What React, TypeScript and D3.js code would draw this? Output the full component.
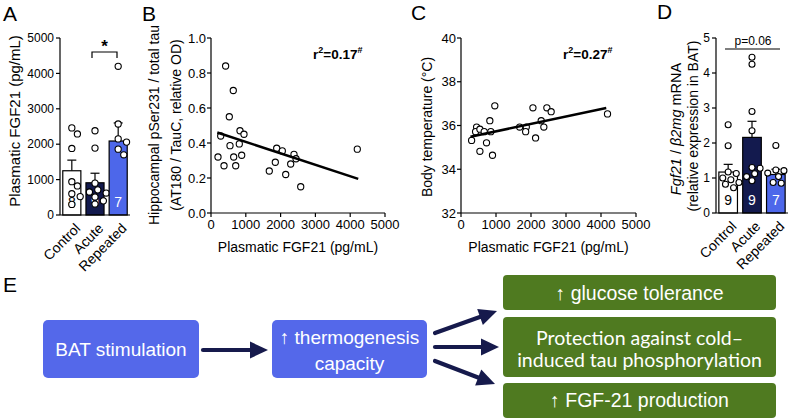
import React from 'react';
import * as d3 from 'd3';

// ---------- DATA ----------
const groups = ['Control', 'Acute', 'Repeated'];

// Panel A: plasmatic FGF21 (pg/mL)
const aMeans = [1250, 910, 2090];
const aSem = [300, 270, 510];
const aN = [8, 9, 7];
const aControl = [2460, 2290, 1880, 940, 820, 600, 520, 300];
const aAcute = [2380, 1890, 900, 710, 650, 620, 510, 400, 310];
const aRepeated = [4200, 2570, 2150, 2060, 1860, 1700];
const aTicks = [0, 1000, 2000, 3000, 4000, 5000];

// Panel B: hippocampal pSer231 / total tau vs plasmatic FGF21
const bX = [420, 640, 526, 833, 948, 279, 546, 813, 201, 374, 652, 882, 710, 1888, 2049, 1848, 1675, 2147, 2290, 2385, 2443, 2578, 4204];
const bY = [0.84, 0.70, 0.55, 0.47, 0.45, 0.44, 0.385, 0.395, 0.32, 0.27, 0.32, 0.33, 0.27, 0.37, 0.355, 0.29, 0.24, 0.22, 0.28, 0.335, 0.31, 0.15, 0.365];
const bFitX = [180, 4230];
const bFitY = [0.46, 0.195];
const bYTicks = [0, 0.2, 0.4, 0.6, 0.8, 1.0];
const xTicksFGF = [0, 1000, 2000, 3000, 4000, 5000];

// Panel C: body temperature vs plasmatic FGF21
const cX = [303, 446, 417, 540, 663, 852, 824, 966, 540, 729, 900, 1676, 1866, 1847, 2055, 2131, 2292, 2367, 2453, 2576, 4186];
const cY = [35.32, 35.93, 35.72, 35.83, 35.72, 35.72, 36.22, 36.9, 34.82, 35.21, 34.64, 35.93, 35.93, 35.72, 36.81, 35.43, 36.22, 35.93, 36.81, 36.63, 36.53];
const cFitX = [270, 4150];
const cFitY = [35.49, 36.8];
const cYTicks = [32, 34, 36, 38, 40];

// Panel D: Fgf21 / b2mg mRNA in BAT
const dMeans = [1.17, 2.16, 1.10];
const dSem = [0.22, 0.46, 0.15];
const dN = [9, 9, 7];
const dControl = [2.52, 1.92, 1.17, 1.13, 1.0, 0.95, 0.87, 0.82, 0.72];
const dAcute = [4.45, 4.25, 2.9, 2.35, 1.3, 1.28, 1.12, 1.04, 0.92];
const dRepeated = [1.93, 1.23, 1.21, 1.14, 1.04, 0.87, 0.85];
const dTicks = [0, 1, 2, 3, 4, 5];

// Panel E texts
const eLeft = 'BAT stimulation';
const eMid = ['↑ thermogenesis', 'capacity'];
const eOut1 = '↑ glucose tolerance';
const eOut2 = ['Protection against cold–', 'induced tau phosphorylation'];
const eOut3 = '↑ FGF-21 production';

// ---------- STYLE ----------
const FONT = "'Liberation Sans', Arial, Helvetica, sans-serif";
const NAVY = '#131a4e';
const BLUE = '#4d67ea';
const BOXBLUE = '#5468ea';
const GREEN = '#4f7a20';
const ARROW = '#161a4c';

function swarm(vals: number[], y: (v: number) => number, r: number) {
  const placed: { x: number; y: number }[] = [];
  return vals.map((v) => {
    const py = y(v);
    let off = 0;
    for (let k = 0; k < 30; k++) {
      const cand = k === 0 ? 0 : (k % 2 ? 1 : -1) * Math.ceil(k / 2) * r * 0.9;
      if (placed.every((p) => Math.hypot(p.x - cand, p.y - py) >= 2 * r + 0.8)) {
        off = cand;
        break;
      }
    }
    placed.push({ x: off, y: py });
    return { x: off, y: py };
  });
}

function BarPanel(props: {
  x0: number; x1: number; yTop: number; yBot: number; max: number;
  means: number[]; sem: number[]; n: number[]; pts: number[][]; ticks: number[];
  tickFont: number; r: number;
}) {
  const { x0, x1, yTop, yBot, max, means, sem, n, pts, ticks, tickFont, r } = props;
  const x = d3.scaleBand<string>().domain(groups).range([x0, x1]).paddingInner(0.22).paddingOuter(0.12);
  const y = d3.scaleLinear().domain([0, max]).range([yBot, yTop]);
  const fills = ['#ffffff', NAVY, BLUE];
  const numCol = ['#000', '#fff', '#fff'];
  const bw = x.bandwidth();
  return (
    <g>
      {groups.map((g, i) => {
        const cx = (x(g) as number) + bw / 2;
        const sw = swarm(pts[i], y, r);
        return (
          <g key={g}>
            <line x1={cx} x2={cx} y1={y(means[i])} y2={y(means[i] + sem[i])} stroke="#000" strokeWidth={1.2} />
            <line x1={cx - 4.5} x2={cx + 4.5} y1={y(means[i] + sem[i])} y2={y(means[i] + sem[i])} stroke="#000" strokeWidth={1.2} />
            <rect x={x(g)} y={y(means[i])} width={bw} height={yBot - y(means[i])} fill={fills[i]} stroke="#000" strokeWidth={1.2} />
            <text x={cx} y={yBot - 8} textAnchor="middle" fontSize={14} fontFamily={FONT} fill={numCol[i]}>{n[i]}</text>
            {sw.map((p, j) => (
              <circle key={j} cx={cx + p.x} cy={p.y} r={r} fill="#fff" stroke="#000" strokeWidth={1.1} />
            ))}
            <text transform={`translate(${cx + 2},${yBot + 7}) rotate(-45)`} textAnchor="end" dominantBaseline="hanging"
              fontSize={14} fontFamily={FONT}>{g}</text>
          </g>
        );
      })}
      <line x1={x0} x2={x0} y1={yTop} y2={yBot} stroke="#000" strokeWidth={1.2} />
      <line x1={x0} x2={x1} y1={yBot} y2={yBot} stroke="#000" strokeWidth={1.2} />
      {ticks.map((t) => (
        <g key={t}>
          <line x1={x0 - 4} x2={x0} y1={y(t)} y2={y(t)} stroke="#000" strokeWidth={1.2} />
          <text x={x0 - 6} y={y(t)} dy="0.35em" textAnchor="end" fontSize={tickFont} fontFamily={FONT}>{t}</text>
        </g>
      ))}
    </g>
  );
}

function ScatterPanel(props: {
  x0: number; x1: number; yTop: number; yBot: number; yDom: [number, number];
  xs: number[]; ys: number[]; fitX: number[]; fitY: number[]; yTicks: number[]; fmt: (v: number) => string;
}) {
  const { x0, x1, yTop, yBot, yDom, xs, ys, fitX, fitY, yTicks, fmt } = props;
  const x = d3.scaleLinear().domain([0, 5000]).range([x0, x1]);
  const y = d3.scaleLinear().domain(yDom).range([yBot, yTop]);
  const line = d3.line<number>().x((_, i) => x(fitX[i])).y((v) => y(v));
  return (
    <g>
      <line x1={x0} x2={x0} y1={yTop} y2={yBot} stroke="#000" strokeWidth={1.2} />
      <line x1={x0} x2={x1} y1={yBot} y2={yBot} stroke="#000" strokeWidth={1.2} />
      {yTicks.map((t) => (
        <g key={t}>
          <line x1={x0 - 4} x2={x0} y1={y(t)} y2={y(t)} stroke="#000" strokeWidth={1.2} />
          <text x={x0 - 5} y={y(t)} dy="0.35em" textAnchor="end" fontSize={13} fontFamily={FONT}>{fmt(t)}</text>
        </g>
      ))}
      {xTicksFGF.map((t) => (
        <g key={t}>
          <line x1={x(t)} x2={x(t)} y1={yBot} y2={yBot + 4} stroke="#000" strokeWidth={1.2} />
          <text x={x(t)} y={yBot + 6} dy="0.75em" textAnchor="middle" fontSize={13} fontFamily={FONT}>{t}</text>
        </g>
      ))}
      <text x={(x0 + x1) / 2} y={yBot + 39} textAnchor="middle" fontSize={14} fontFamily={FONT}>Plasmatic FGF21 (pg/mL)</text>
      {xs.map((v, i) => (
        <circle key={i} cx={x(v)} cy={y(ys[i])} r={3.1} fill="#fff" stroke="#000" strokeWidth={1.1} />
      ))}
      <path d={line(fitY) || ''} stroke="#000" strokeWidth={2.6} fill="none" />
    </g>
  );
}

function Arrow(props: { x1: number; y1: number; x2: number; y2: number }) {
  const { x1, y1, x2, y2 } = props;
  const ang = Math.atan2(y2 - y1, x2 - x1);
  const L = 18, W = 8.5;
  const bx = x2 - L * Math.cos(ang), by = y2 - L * Math.sin(ang);
  const px = -Math.sin(ang) * W, py = Math.cos(ang) * W;
  return (
    <g>
      <line x1={x1} y1={y1} x2={bx + 2 * Math.cos(ang)} y2={by + 2 * Math.sin(ang)} stroke={ARROW} strokeWidth={4.2} strokeLinecap="round" />
      <polygon points={`${x2},${y2} ${bx + px},${by + py} ${bx - px},${by - py}`} fill={ARROW} />
    </g>
  );
}

export default function App() {
  return (
    <svg width={789} height={420} style={{ position: 'absolute', left: 0, top: 0, background: '#fff' }}
      fontFamily={FONT}>
      <rect width={789} height={420} fill="#fff" />
      {/* panel letters */}
      <text x={3} y={21} fontSize={21}>A</text>
      <text x={142} y={21} fontSize={21}>B</text>
      <text x={411} y={20} fontSize={21}>C</text>
      <text x={657} y={19} fontSize={21}>D</text>
      <text x={3} y={292} fontSize={21}>E</text>

      {/* Panel A */}
      <BarPanel x0={60} x1={130} yTop={38} yBot={215} max={5000} means={aMeans} sem={aSem} n={aN}
        pts={[aControl, aAcute, aRepeated]} ticks={aTicks} tickFont={12} r={3.1} />
      <text transform="translate(14,121) rotate(-90)" textAnchor="middle" dominantBaseline="central" fontSize={15}>Plasmatic FGF21 (pg/mL)</text>
      <path d="M92,58 V52 H117 V58" fill="none" stroke="#000" strokeWidth={1.2} />
      <text x={104.5} y={52} textAnchor="middle" fontSize={17} fontWeight="bold">*</text>

      {/* Panel B */}
      <ScatterPanel x0={211} x1={385} yTop={38} yBot={213} yDom={[0, 1]} xs={bX} ys={bY}
        fitX={bFitX} fitY={bFitY} yTicks={bYTicks} fmt={(v) => v.toFixed(1)} />
      <text transform="translate(154,125) rotate(-90)" textAnchor="middle" dominantBaseline="central" fontSize={14}>Hippocampal pSer231 / total tau</text>
      <text transform="translate(176,125) rotate(-90)" textAnchor="middle" dominantBaseline="central" fontSize={14}>(AT180 / TauC, relative OD)</text>
      <text x={313} y={59} fontSize={13.5} fontWeight="bold">r<tspan fontSize={9} dy={-6}>2</tspan><tspan dy={6}>=0.17</tspan><tspan fontSize={9} dy={-6}>#</tspan></text>

      {/* Panel C */}
      <ScatterPanel x0={461} x1={636} yTop={38} yBot={213} yDom={[32, 40]} xs={cX} ys={cY}
        fitX={cFitX} fitY={cFitY} yTicks={cYTicks} fmt={(v) => String(v)} />
      <text transform="translate(427,127) rotate(-90)" textAnchor="middle" dominantBaseline="central" fontSize={14}>Body temperature (°C)</text>
      <text x={563} y={59} fontSize={13.5} fontWeight="bold">r<tspan fontSize={9} dy={-6}>2</tspan><tspan dy={6}>=0.27</tspan><tspan fontSize={9} dy={-6}>#</tspan></text>

      {/* Panel D */}
      <BarPanel x0={716} x1={788} yTop={38} yBot={213} max={5} means={dMeans} sem={dSem} n={dN}
        pts={[dControl, dAcute, dRepeated]} ticks={dTicks} tickFont={12} r={3} />
      <text transform="translate(676,129) rotate(-90)" textAnchor="middle" dominantBaseline="central" fontSize={14.5}>
        <tspan fontStyle="italic">Fgf21</tspan> / <tspan fontStyle="italic">β2mg</tspan> mRNA
      </text>
      <text transform="translate(693,126) rotate(-90)" textAnchor="middle" dominantBaseline="central" fontSize={14}>(relative expression in BAT)</text>
      <line x1={725} x2={780} y1={49} y2={49} stroke="#000" strokeWidth={1.2} />
      <text x={753} y={45} textAnchor="middle" fontSize={12}>p=0.06</text>

      {/* Panel E */}
      <rect x={43} y={320} width={156} height={58} rx={5} fill={BOXBLUE} />
      <text x={121} y={349} textAnchor="middle" dominantBaseline="central" fontSize={19} fill="#fff">{eLeft}</text>
      <Arrow x1={203} y1={350} x2={268} y2={350} />
      <rect x={272} y={320} width={155} height={58} rx={5} fill={BOXBLUE} />
      <text x={349.5} y={337} textAnchor="middle" dominantBaseline="central" fontSize={19} fill="#fff">{eMid[0]}</text>
      <text x={349.5} y={363} textAnchor="middle" dominantBaseline="central" fontSize={19} fill="#fff">{eMid[1]}</text>
      <Arrow x1={435} y1={333} x2={497} y2={311} />
      <Arrow x1={435} y1={347} x2={499} y2={347} />
      <Arrow x1={435} y1={361} x2={495} y2={384} />
      <rect x={503} y={275} width={273} height={35} rx={4} fill={GREEN} />
      <text x={639.5} y={293} textAnchor="middle" dominantBaseline="central" fontSize={19.5} fill="#fff">{eOut1}</text>
      <rect x={503} y={317} width={273} height={60} rx={4} fill={GREEN} />
      <text x={639.5} y={337} textAnchor="middle" dominantBaseline="central" fontSize={19.5} fill="#fff" fontFamily="Lato, 'Open Sans', sans-serif">{eOut2[0]}</text>
      <text x={639.5} y={359} textAnchor="middle" dominantBaseline="central" fontSize={19.5} fill="#fff" fontFamily="Lato, 'Open Sans', sans-serif">{eOut2[1]}</text>
      <rect x={503} y={383} width={273} height={35} rx={4} fill={GREEN} />
      <text x={639.5} y={400} textAnchor="middle" dominantBaseline="central" fontSize={19.5} fill="#fff">{eOut3}</text>
    </svg>
  );
}
